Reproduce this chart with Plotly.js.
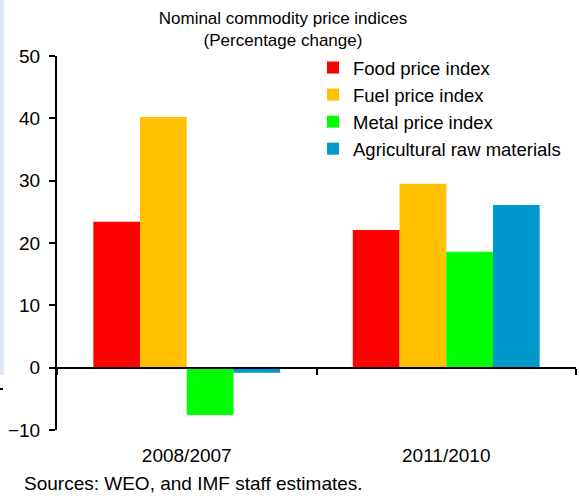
<!DOCTYPE html>
<html>
<head>
<meta charset="utf-8">
<script src="https://cdn.plot.ly/plotly-3.0.1.min.js"></script>
<style>html,body{margin:0;padding:0;background:#fff;}#chart{width:580px;height:496px;}</style>
</head>
<body>
<div id="chart"></div>
<script>
const categories = ['2008/2007', '2011/2010'];
const seriesNames = ['Food price index', 'Fuel price index', 'Metal price index', 'Agricultural raw materials'];
const food = [23.4, 22.1];
const fuel = [40.2, 29.5];
const metal = [-7.6, 18.6];
const agri = [-0.8, 26.1];
const yTicks = [-10, 0, 10, 20, 30, 40, 50];

const colors = ['#FF0000', '#FFC000', '#00FF00', '#0099CC'];
const values = [food, fuel, metal, agri];
const FONT = 'Liberation Sans, Arial, sans-serif';

const traces = values.map((v, i) => ({
  type: 'bar',
  x: categories,
  y: v,
  name: seriesNames[i],
  marker: {color: colors[i], line: {width: 0}},
  hoverinfo: 'x+y+name'
}));

const L = 57, R = 4, T = 56, B = 66, W = 580, H = 496;
const pw = W - L - R, ph = H - T - B;
const px = x => (x - L) / pw;
const py = y => (H - B - y) / ph;

const layout = {
  width: W, height: H,
  margin: {l: L, r: R, t: T, b: B, pad: 0},
  paper_bgcolor: '#ffffff', plot_bgcolor: '#ffffff',
  font: {family: FONT, size: 19, color: '#000'},
  title: {
    text: 'Nominal commodity price indices<br>(Percentage change)',
    font: {family: FONT, size: 17, color: '#000'},
    xref: 'container', x: 283 / W, xanchor: 'center',
    yref: 'container', y: 1 - 24 / H, yanchor: 'top'
  },
  barmode: 'group', bargap: 0.28, bargroupgap: 0,
  showlegend: true,
  legend: {
    x: px(313), xanchor: 'left', y: py(49), yanchor: 'top',
    font: {family: FONT, size: 18.5, color: '#000'},
    bgcolor: 'rgba(0,0,0,0)', traceorder: 'normal'
  },
  xaxis: {
    type: 'category', range: [-0.5, 1.5],
    anchor: 'free', position: 1 / 6,
    showline: true, linecolor: '#000', linewidth: 2,
    ticks: 'outside', tickson: 'boundaries', ticklen: 6, tickwidth: 2, tickcolor: '#000',
    ticklabelstandoff: 71,
    showgrid: false, zeroline: false,
    tickfont: {family: FONT, size: 19, color: '#000'}
  },
  yaxis: {
    range: [-10, 50], tickvals: yTicks,
    showline: true, linecolor: '#000', linewidth: 2,
    ticks: 'outside', ticklen: 6, tickwidth: 2, tickcolor: '#000',
    ticklabelstandoff: 5,
    showgrid: false, zeroline: false,
    tickfont: {family: FONT, size: 19, color: '#000'}
  },
  shapes: [
    {type: 'rect', xref: 'paper', yref: 'paper', x0: px(0), x1: px(4), y0: py(0), y1: py(375),
     fillcolor: '#DCE8F5', line: {width: 0}, layer: 'below'},
    {type: 'line', xref: 'paper', yref: 'paper', x0: px(0), x1: px(3), y0: py(389), y1: py(389),
     line: {color: '#000', width: 2}}
  ],
  annotations: [
    {text: 'Sources: WEO, and IMF staff estimates.', xref: 'paper', yref: 'paper',
     x: px(22), xanchor: 'left', y: py(484), yanchor: 'middle', showarrow: false,
     font: {family: FONT, size: 19, color: '#000'}}
  ]
};

Plotly.newPlot('chart', traces, layout, {displayModeBar: false, staticPlot: true});
</script>
</body>
</html>
